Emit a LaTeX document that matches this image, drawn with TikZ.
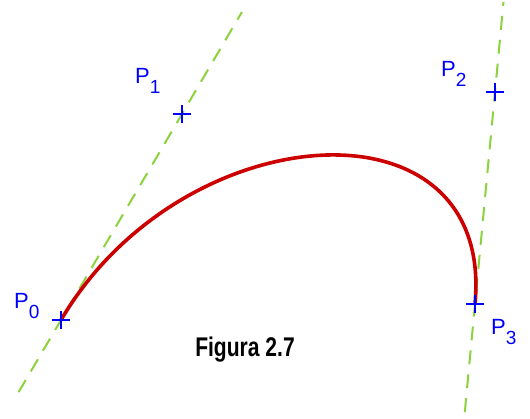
\documentclass[tikz,border=0pt]{standalone}
\usepackage{fontspec}
\setmainfont{Liberation Sans}
\usetikzlibrary{calc, shapes.misc}
\definecolor{Curvecolor}{RGB}{204,0,0}
\definecolor{Guidecolor}{RGB}{140,210,60}
\definecolor{Ptcolor}{RGB}{0,0,255}
\newcommand{\ptlabel}[1]{P\raisebox{-10pt}{\fontsize{19}{19}\selectfont #1}}

\begin{document}
\begin{tikzpicture}[x=1pt, y=-1pt,
  curv/.style  ={Curvecolor, line width=3.6pt},
  guide/.style ={Guidecolor, line width=2pt, dash pattern=on 14pt off 10pt},
  ctrl/.style  ={cross out, draw=Ptcolor, line width=2.2pt, rotate=45,
                 minimum size=11pt, inner sep=0pt},
  lbl/.style   ={text=Ptcolor, font=\fontsize{22}{22}\selectfont,
                 inner sep=0pt, anchor=base west},
  figcap/.style={font=\fontsize{27}{27}\selectfont\bfseries,
                 inner sep=0pt, anchor=base},
]
\useasboundingbox (0,0) rectangle (530,419);

%% puntos de control
\coordinate (P0) at (61,320);
\coordinate (P1) at (182,114);
\coordinate (P2) at (495,92);
\coordinate (P3) at (475,304);

%% extremos de las rectas tangentes
\coordinate (G0) at ($(P0)!-0.35!(P1)$);
\coordinate (G1) at ($(P0)!1.495!(P1)$);
\coordinate (G2) at ($(P3)!-0.51!(P2)$);
\coordinate (G3) at ($(P3)!1.425!(P2)$);

\draw[guide] (G0) -- (G1);
\draw[guide] (G2) -- (G3);

%% curva de Bezier
\draw[curv] (P0) .. controls (P1) and (P2) .. (P3);

\node[ctrl] (C0) at (P0) {};
\node[ctrl] (C1) at (P1) {};
\node[ctrl] (C2) at (P2) {};
\node[ctrl] (C3) at (P3) {};

%% etiquetas
\node[lbl] (L0) at (14,309) {\ptlabel{0}};
\node[lbl] (L1) at (135,84) {\ptlabel{1}};
\node[lbl] (L2) at (441,77) {\ptlabel{2}};
\node[lbl] (L3) at (491,335) {\ptlabel{3}};

\node[figcap] (FIG) at (245,357) {\scalebox{0.78}[1]{Figura 2.7}};

\end{tikzpicture}
\end{document}
